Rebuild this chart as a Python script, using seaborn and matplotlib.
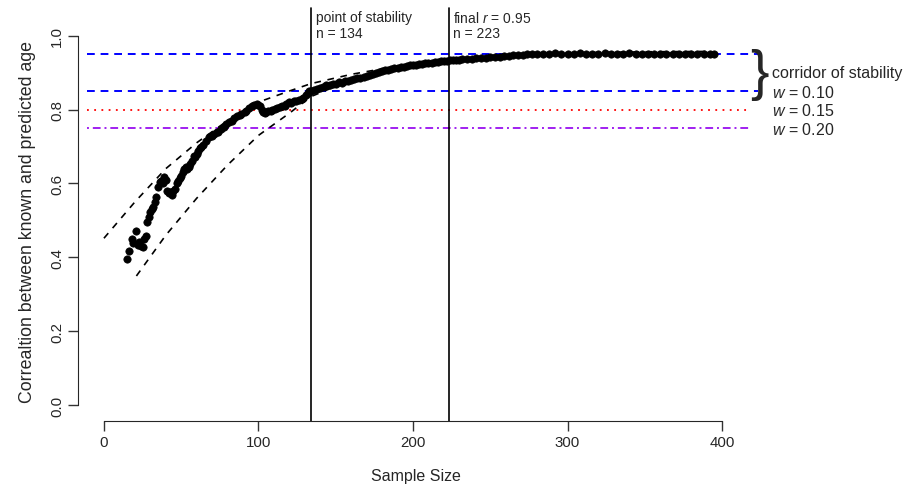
import numpy as np
import pandas as pd
import matplotlib
matplotlib.use("Agg")
import matplotlib.pyplot as plt
import seaborn as sns

n_obs = [15, 16, 18, 19, 21, 22, 23, 24, 25, 26, 27, 28, 29, 30, 31, 32, 33, 34, 35, 36,
         37, 38, 39, 40, 41, 42, 43, 44, 45, 46, 47, 48, 49, 50, 51, 52, 53, 54, 55, 56,
         57, 58, 59, 60, 61, 62, 63, 64, 66, 68, 70, 71, 73, 74, 76, 78, 79, 81, 83, 84,
         86, 88, 89, 91, 92, 94, 96, 97, 99, 100, 101, 102, 103, 104, 105, 106, 108, 109, 111, 112,
         114, 115, 117, 118, 120, 121, 123, 124, 126, 128, 129, 131, 132, 133, 134, 136, 138, 140, 142, 144,
         146, 148, 150, 152, 154, 156, 158, 160, 162, 164, 166, 168, 170, 172, 174, 176, 178, 180, 182, 184,
         186, 188, 190, 192, 194, 196, 198, 200, 202, 204, 206, 208, 210, 212, 214, 216, 218, 220, 222, 224,
         226, 228, 230, 232, 235, 238, 241, 244, 247, 250, 253, 256, 259, 262, 265, 268, 271, 274, 277, 280,
         284, 288, 292, 296, 300, 304, 308, 312, 316, 320, 324, 328, 332, 336, 340, 344, 348, 352, 356, 360,
         364, 368, 372, 376, 380, 384, 388, 392, 395]
r_obs = [0.396, 0.418, 0.450, 0.440, 0.472, 0.435, 0.441, 0.430, 0.427, 0.450, 0.457, 0.495, 0.510, 0.522, 0.530, 0.536, 0.550, 0.563, 0.590, 0.603,
         0.608, 0.600, 0.617, 0.610, 0.580, 0.575, 0.576, 0.570, 0.580, 0.585, 0.600, 0.608, 0.615, 0.621, 0.630, 0.639, 0.645, 0.639, 0.645, 0.653,
         0.660, 0.675, 0.672, 0.680, 0.689, 0.695, 0.698, 0.705, 0.716, 0.725, 0.729, 0.735, 0.738, 0.740, 0.747, 0.752, 0.761, 0.765, 0.770, 0.778,
         0.783, 0.786, 0.788, 0.793, 0.797, 0.803, 0.810, 0.812, 0.815, 0.812, 0.810, 0.798, 0.792, 0.790, 0.792, 0.795, 0.797, 0.800, 0.801, 0.805,
         0.806, 0.810, 0.810, 0.815, 0.820, 0.818, 0.824, 0.822, 0.826, 0.828, 0.830, 0.838, 0.845, 0.849, 0.850, 0.852, 0.855, 0.858, 0.860, 0.865,
         0.866, 0.869, 0.870, 0.873, 0.872, 0.876, 0.878, 0.879, 0.882, 0.884, 0.886, 0.889, 0.891, 0.893, 0.897, 0.899, 0.902, 0.905, 0.906, 0.908,
         0.910, 0.912, 0.913, 0.914, 0.916, 0.917, 0.919, 0.920, 0.921, 0.922, 0.924, 0.925, 0.926, 0.927, 0.928, 0.929, 0.930, 0.931, 0.932, 0.933,
         0.934, 0.934, 0.935, 0.936, 0.937, 0.936, 0.938, 0.939, 0.940, 0.941, 0.942, 0.943, 0.944, 0.945, 0.946, 0.947, 0.948, 0.949, 0.950, 0.950,
         0.951, 0.950, 0.952, 0.950, 0.951, 0.950, 0.952, 0.950, 0.951, 0.950, 0.952, 0.950, 0.951, 0.950, 0.952, 0.950, 0.951, 0.950, 0.951, 0.950,
         0.951, 0.950, 0.951, 0.950, 0.950, 0.951, 0.950, 0.950, 0.950]

# dashed bounds
n_upper = [0, 20, 40, 60, 80, 100, 120, 134, 160, 200, 250, 300, 350, 393]
r_upper = [0.452, 0.550, 0.640, 0.710, 0.770, 0.820, 0.850, 0.870, 0.895, 0.925, 0.945, 0.953, 0.956, 0.957]
n_lower = [21, 40, 60, 80, 100, 120, 134, 160, 200, 250, 300, 350, 393]
r_lower = [0.350, 0.460, 0.560, 0.650, 0.730, 0.790, 0.835, 0.880, 0.920, 0.940, 0.948, 0.952, 0.953]

# reference lines
corridor_hi = 0.95
w_levels = [0.10, 0.15, 0.20]
w_lines = [0.85, 0.80, 0.75]
w_colors = ["#0000FF", "#FF0000", "#A020F0"]
n_stable = 134
n_final = 223
final_r = 0.95

sns.set_style("ticks")
plt.rcParams["font.family"] = ["Liberation Sans", "DejaVu Sans"]
plt.rcParams["mathtext.fontset"] = "custom"
plt.rcParams["mathtext.rm"] = "Liberation Sans"
plt.rcParams["mathtext.it"] = "Liberation Sans:italic"

fig = plt.figure(figsize=(9.12, 4.89), dpi=100)
ax = fig.add_axes([0.0855, 0.137, 0.7402, 0.8186])
ax.set_xlim(-16.8, 420)
ax.set_ylim(-0.042, 1.04)

obs = pd.DataFrame({"n": n_obs, "r": r_obs})
up = pd.DataFrame({"n": n_upper, "r": r_upper})
lo = pd.DataFrame({"n": n_lower, "r": r_lower})

# horizontal corridor lines
ax.hlines(corridor_hi, -11, 423, colors="#0000FF", linestyles=(0, (4, 3)), lw=1.4, clip_on=False)
ax.hlines(w_lines[0], -11, 423, colors=w_colors[0], linestyles=(0, (4, 3)), lw=1.4, clip_on=False)
ax.hlines(w_lines[1], -11, 417, colors=w_colors[1], linestyles=(0, (1, 3)), lw=1.3, clip_on=False)
ax.hlines(w_lines[2], -11, 419, colors=w_colors[2], linestyles=(0, (1, 2, 4, 2)), lw=1.4, clip_on=False)

sns.lineplot(data=up, x="n", y="r", ax=ax, color="black", lw=1.2, linestyle=(0, (4, 4)), sort=False)
sns.lineplot(data=lo, x="n", y="r", ax=ax, color="black", lw=1.2, linestyle=(0, (4, 4)), sort=False)
sns.scatterplot(data=obs, x="n", y="r", ax=ax, color="black", s=28, edgecolor="black", linewidth=0.5, zorder=3)

# vertical markers
for nv in [n_stable, n_final]:
    ax.plot([nv, nv], [-0.042, 1.075], color="black", lw=1.2, clip_on=False)

ax.text(n_stable + 3, 1.05, "point of stability", fontsize=10, va="center", ha="left")
ax.text(n_stable + 3, 1.008, f"n = {n_stable}", fontsize=10, va="center", ha="left")
ax.text(n_final + 3, 1.05, f"final $r$ = {final_r:.2f}", fontsize=10, va="center", ha="left")
ax.text(n_final + 3, 1.008, f"n = {n_final}", fontsize=10, va="center", ha="left")

# brace and legend text on the right
ax.text(418, 0.897, "}", fontsize=40, va="center", ha="left", clip_on=False)
ax.text(432, 0.90, "corridor of stability", fontsize=11.5, va="center", ha="left")
for w, yl in zip(w_levels, w_lines):
    ax.text(432, yl - 0.002, f"$w$ = {w:.2f}", fontsize=11.5, va="center", ha="left")

ax.set_xticks([0, 100, 200, 300, 400])
ax.set_yticks([0.0, 0.2, 0.4, 0.6, 0.8, 1.0])
ax.set_yticklabels(["0.0", "0.2", "0.4", "0.6", "0.8", "1.0"], rotation=90, va="center")
ax.tick_params(axis="both", length=7, width=1, labelsize=10.8, pad=3, color="#333333")
ax.spines["top"].set_visible(False)
ax.spines["right"].set_visible(False)
ax.spines["bottom"].set_bounds(0, 400)
ax.spines["left"].set_bounds(0, 1)
ax.set_xlabel("Sample Size", fontsize=11.5, labelpad=14)
ax.set_ylabel("Correaltion between known and predicted age", fontsize=12.8, labelpad=10)

fig.savefig("out.png", dpi=100)
